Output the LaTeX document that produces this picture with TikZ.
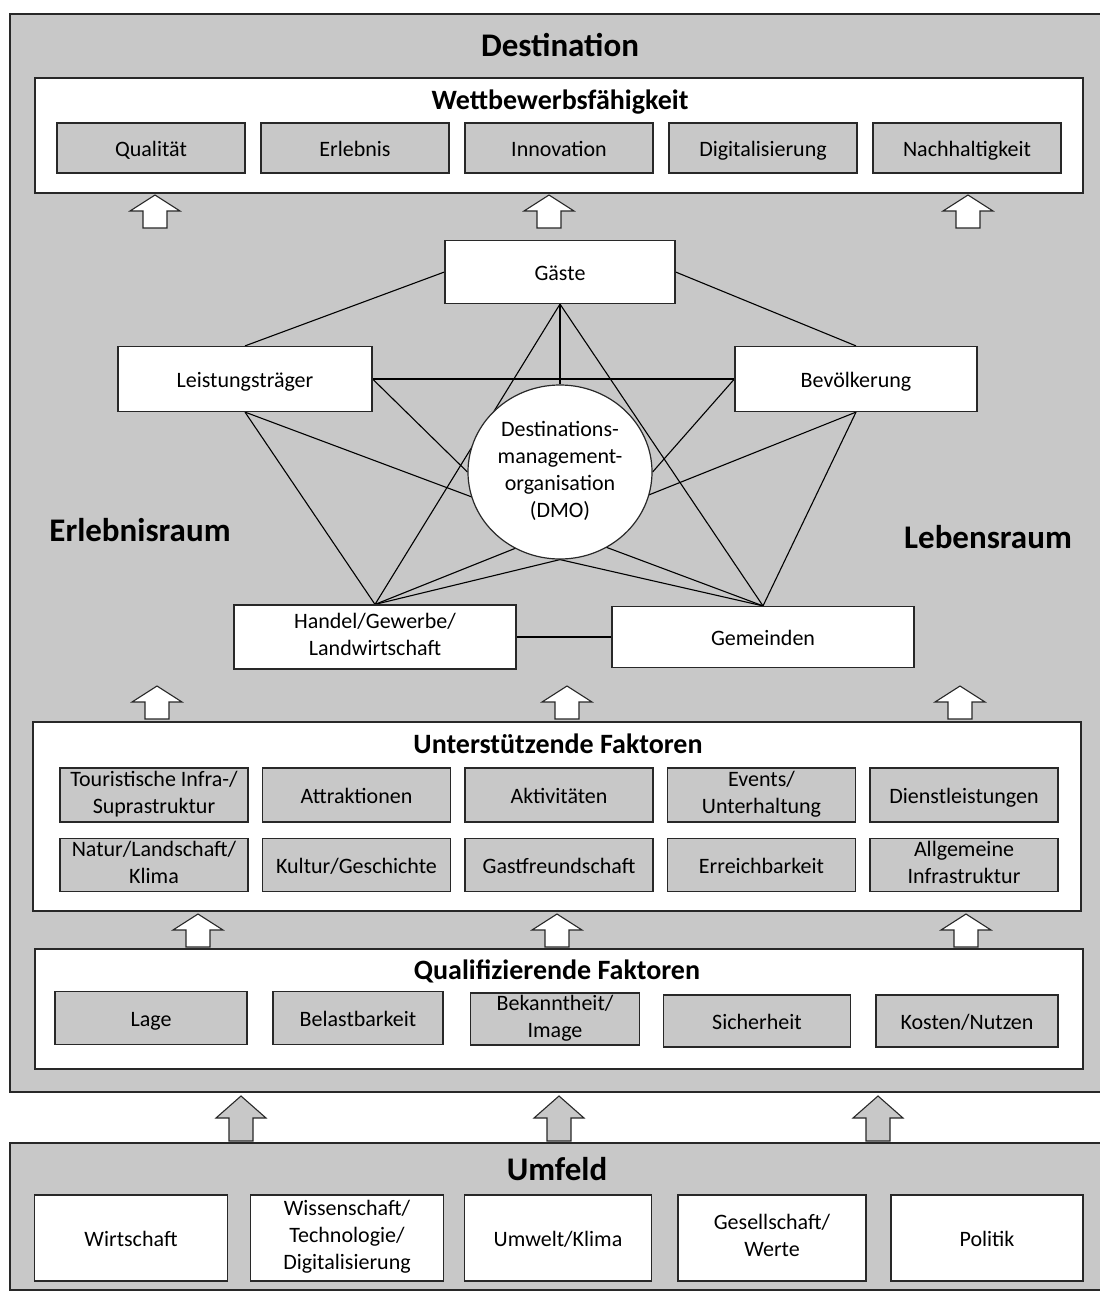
\documentclass[tikz,border=0pt]{standalone}
\usepackage{fontspec}
\setmainfont{Carlito}
\usetikzlibrary{shapes.geometric}
\pgfdeclarelayer{bg}
\pgfdeclarelayer{links}
\pgfsetlayers{bg,links,main}
\definecolor{boxgray}{RGB}{200,200,200}
\definecolor{edge}{RGB}{40,40,40}
\tikzset{
  pics/blockup/.style n args={3}{code={
    \draw[edge, line width=1.1pt, fill=#1] (-12,0) -- (-12,-#2) -- (-25,-#2) -- (0,-#3) -- (25,-#2) -- (12,-#2) -- (12,0) -- cycle;}},
}
\begin{document}
\begin{tikzpicture}[x=1pt, y=-1pt,
  frame/.style={draw=edge, line width=1.3pt},
  txt/.style={font=\fontsize{22}{27}\selectfont, align=center,
    execute at begin node=\rule{0pt}{22pt}, execute at end node=\rule[-6pt]{0pt}{6pt}},
  box/.style={txt, draw=edge, line width=1.2pt, inner sep=0pt},
  graybox/.style={box, fill=boxgray},
  whitebox/.style={box, fill=white},
  title/.style={font=\fontsize{33}{40}\selectfont\bfseries, anchor=base},
  subtitle/.style={font=\fontsize{28}{34}\selectfont\bfseries, anchor=base},
  link/.style={black, line width=1.1pt}]
\useasboundingbox (0,0) rectangle (1100,1293);
\begin{pgfonlayer}{bg}
\draw[frame, fill=boxgray] (10,14) rectangle (1103,1092);
\draw[frame, fill=boxgray] (10,1143) rectangle (1103,1290);
\draw[frame, fill=white] (35,78) rectangle (1083,193);
\draw[frame, fill=white] (33,722) rectangle (1081,911);
\draw[frame, fill=white] (35,949) rectangle (1083,1069);
\end{pgfonlayer}

\node[title] (dest) at (560,56) {Destination};
\node[subtitle] (wett) at (560,109) {Wettbewerbsfähigkeit};
\node[subtitle] (unter) at (558,753) {Unterstützende Faktoren};
\node[subtitle] (quali) at (557,979) {Qualifizierende Faktoren};
\node[title] (umfeld) at (557,1180) {Umfeld};
\node[title] (erleb) at (140,541) {Erlebnisraum};
\node[title] (leben) at (988,548) {Lebensraum};

\foreach \t [count=\i] in {Qualität,Erlebnis,Innovation,Digitalisierung,Nachhaltigkeit}
  \node[graybox, minimum width=188, minimum height=50] (w\i) at (151+204*\i-204,148) {\t};

\foreach \t [count=\i] in {Touristische Infra-/\\Suprastruktur,Attraktionen,Aktivitäten,Events/\\Unterhaltung,Dienstleistungen}
  \node[graybox, minimum width=188, minimum height=54] (u\i) at (154+202.5*\i-202.5,795) {\t};
\foreach \t [count=\i] in {Natur/Landschaft/\\Klima,Kultur/Geschichte,Gastfreundschaft,Erreichbarkeit,Allgemeine\\Infrastruktur}
  \node[graybox, minimum width=188, minimum height=53] (n\i) at (154+202.5*\i-202.5,865) {\t};

\node[graybox, minimum width=192, minimum height=53] (q1) at (151,1018) {Lage};
\node[graybox, minimum width=170, minimum height=53] (q2) at (358,1018) {Belastbarkeit};
\node[graybox, minimum width=169, minimum height=52] (q3) at (555,1019) {Bekanntheit/\\Image};
\node[graybox, minimum width=187, minimum height=52] (q4) at (757,1021) {Sicherheit};
\node[graybox, minimum width=182, minimum height=52] (q5) at (967,1021) {Kosten/Nutzen};

\node[whitebox, minimum width=193, minimum height=86] (f1) at (131,1238) {Wirtschaft};
\node[whitebox, minimum width=193, minimum height=86] (f2) at (347,1238) {Wissenschaft/\\Technologie/\\Digitalisierung};
\node[whitebox, minimum width=187, minimum height=86] (f3) at (558,1238) {Umwelt/Klima};
\node[whitebox, minimum width=188, minimum height=86] (f4) at (772,1238) {Gesellschaft/\\Werte};
\node[whitebox, minimum width=192, minimum height=86] (f5) at (987,1238) {Politik};

\node[whitebox, minimum width=230, minimum height=63] (gaeste) at (560,272) {Gäste};
\node[whitebox, minimum width=254, minimum height=65] (leist) at (245,379) {Leistungsträger};
\node[whitebox, minimum width=242, minimum height=65] (bevoelk) at (856,379) {Bevölkerung};
\node[whitebox, minimum width=282, minimum height=64] (handel) at (375,637) {Handel/Gewerbe/\\Landwirtschaft};
\node[whitebox, minimum width=302, minimum height=61] (gemeind) at (763,637) {Gemeinden};
\node[ellipse, box, fill=white, minimum width=184, minimum height=174] (dmo) at (560,472) {Destinations-\\management-\\organisation\\(DMO)};

\begin{pgfonlayer}{links}
\foreach \a/\b in {gaeste.west/leist.north, gaeste.east/bevoelk.north, gaeste.south/dmo.north,
    gaeste.south/handel.north, gaeste.south/gemeind.north, leist.east/bevoelk.west,
    leist.east/dmo.west, bevoelk.west/dmo.east, leist.south/handel.north, leist.south/gemeind.north,
    bevoelk.south/handel.north, bevoelk.south/gemeind.north, handel.north/dmo.south,
    gemeind.north/dmo.south, handel.east/gemeind.west}
  \draw[link] (\a) -- (\b);
\end{pgfonlayer}

\foreach \x/\y in {155/228, 549/228, 968/228, 157/719, 567/719, 960/719, 198/947, 557/947, 966/947}
  \pic at (\x,\y) {blockup={white}{17}{33}};
\foreach \x in {241,559,878}
  \pic at (\x,1141) {blockup={boxgray}{23}{45}};
\end{tikzpicture}
\end{document}
